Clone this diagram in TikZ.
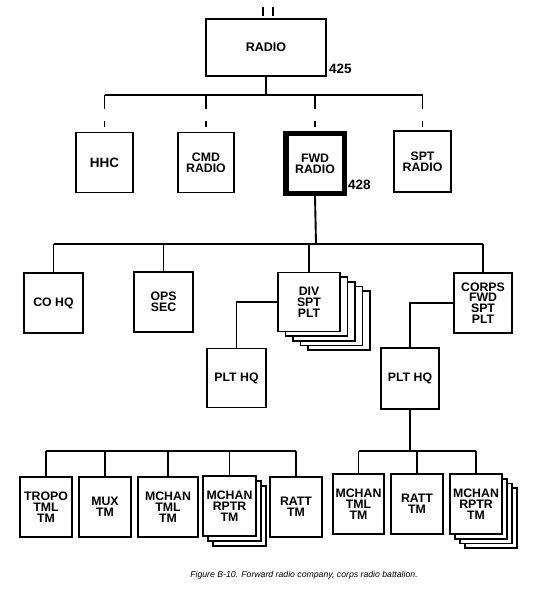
\documentclass[tikz,border=0pt]{standalone}
\usepackage{fontspec}
\setmainfont{Liberation Sans}
\begin{document}
\begin{tikzpicture}[x=1pt, y=-1pt, unit/.style={draw, line width=1.9pt, fill=white, minimum width=58pt, minimum height=60pt, inner sep=1pt, align=center, font=\bfseries\fontsize{12.3}{10.8}\selectfont}, sheet/.style={draw, line width=1.7pt, fill=white}, link/.style={line width=1.9pt}, dash link/.style={link, dash pattern=on 14pt off 12pt on 6pt off 10pt}, num/.style={font=\bfseries\fontsize{13.5}{13.5}\selectfont, inner sep=0pt}]
	\useasboundingbox (0,0) rectangle (550,596);
	\draw[line width=2.5pt] (263,7) -- (263,16) (273,7) -- (273,16);
	% battalion and companies
	\node[unit, minimum width=120pt, minimum height=57pt, font=\bfseries\fontsize{12.5}{12}\selectfont] (radio) at (266,47.5) {RADIO};
	\node[num, anchor=base west] (n425) at (329,74) {425};
	\node[unit, minimum width=57pt, font=\bfseries\fontsize{13.5}{12}\selectfont] (hhc) at (104.5,162.5) {HHC};
	\node[unit, minimum width=56pt] (cmd) at (206,162.5) {CMD\\RADIO};
	\node[unit, line width=5.5pt, minimum width=58.5pt, minimum height=59.5pt] (fwd) at (315,163.5) {FWD\\RADIO};
	\node[num, anchor=base west] (n428) at (348,189) {428};
	\node[unit, minimum width=57pt, minimum height=61pt] (spt) at (422.5,161.5) {SPT\\RADIO};
	\coordinate (hub1) at (266,95);
	\draw[link] (radio.south) -- (hub1);
	\draw[link] (hhc.north |- hub1) -- (spt.north |- hub1);
	\foreach \n in {hhc,cmd,fwd,spt}
		\draw[dash link] (\n.north |- hub1) -- (\n.north);
	% sections and platoons
	\node[unit, minimum width=59pt] (cohq) at (53.5,303) {CO HQ};
	\node[unit, minimum width=59pt] (ops) at (163.5,302) {OPS\\SEC};
	\foreach \i in {4,3,2,1}
		\draw[sheet, shift={(\i*7.5,\i*4.7)}] (278,272.5) rectangle (340,331.5);
	\node[unit, minimum width=62pt, minimum height=59pt] (div) at (309,302) {DIV\\SPT\\PLT};
	\node[unit] (corps) at (483,303) {CORPS\\FWD\\SPT\\PLT};
	\coordinate (hub2) at (316,244);
	\draw[link] (fwd.south) -- (hub2);
	\draw[link] (cohq.north |- hub2) -- (corps.north |- hub2);
	\foreach \n in {cohq,ops,div,corps}
		\draw[link] (\n.north |- hub2) -- (\n.north);
	\node[unit, minimum width=59pt, minimum height=59pt] (plthqa) at (236.5,378) {PLT HQ};
	\node[unit, minimum height=61pt] (plthqb) at (410,378.5) {PLT HQ};
	\draw[link] (div.west) -| (plthqa.north);
	\draw[link] (corps.west) -| (plthqb.north);
	% teams
	\node[unit, minimum width=52pt] (tropo) at (46,507) {TROPO\\TML\\TM};
	\node[unit, minimum width=52pt] (mux) at (105,507) {MUX\\TM};
	\node[unit, minimum width=60pt] (mtmla) at (168,507) {MCHAN\\TML\\TM};
	\foreach \i in {2,1}
		\draw[sheet, shift={(\i*5,\i*5)}] (203,476) rectangle (256,536);
	\node[unit, minimum width=53pt] (mrpta) at (229.5,506) {MCHAN\\RPTR\\TM};
	\node[unit, minimum width=52pt] (ratta) at (296,507) {RATT\\TM};
	\node[unit, minimum width=51pt] (mtmlb) at (358.5,504) {MCHAN\\TML\\TM};
	\node[unit, minimum width=52pt] (rattb) at (417,504) {RATT\\TM};
	\foreach \i in {3,2,1}
		\draw[sheet, shift={(\i*5,\i*4.7)}] (450,474) rectangle (502,534);
	\node[unit, minimum width=52pt] (mrptb) at (476,504) {MCHAN\\RPTR\\TM};
	\coordinate (hub3) at (48,451);
	\draw[link] (tropo.north |- hub3) -- (ratta.north |- hub3);
	\foreach \n in {tropo,mux,mtmla,mrpta,ratta}
		\draw[link] (\n.north |- hub3) -- (\n.north);
	\draw[link] (plthqb.south) -- (plthqb.south |- hub3);
	\draw[link] (mtmlb.north |- hub3) -- (mrptb.north |- hub3);
	\foreach \n in {mtmlb,rattb,mrptb}
		\draw[link] (\n.north |- hub3) -- (\n.north);
	\node[font=\itshape\fontsize{8.7}{10}\selectfont] (caption) at (304,575) {Figure B-10. Forward radio company, corps radio battalion.};
\end{tikzpicture}
\end{document}
